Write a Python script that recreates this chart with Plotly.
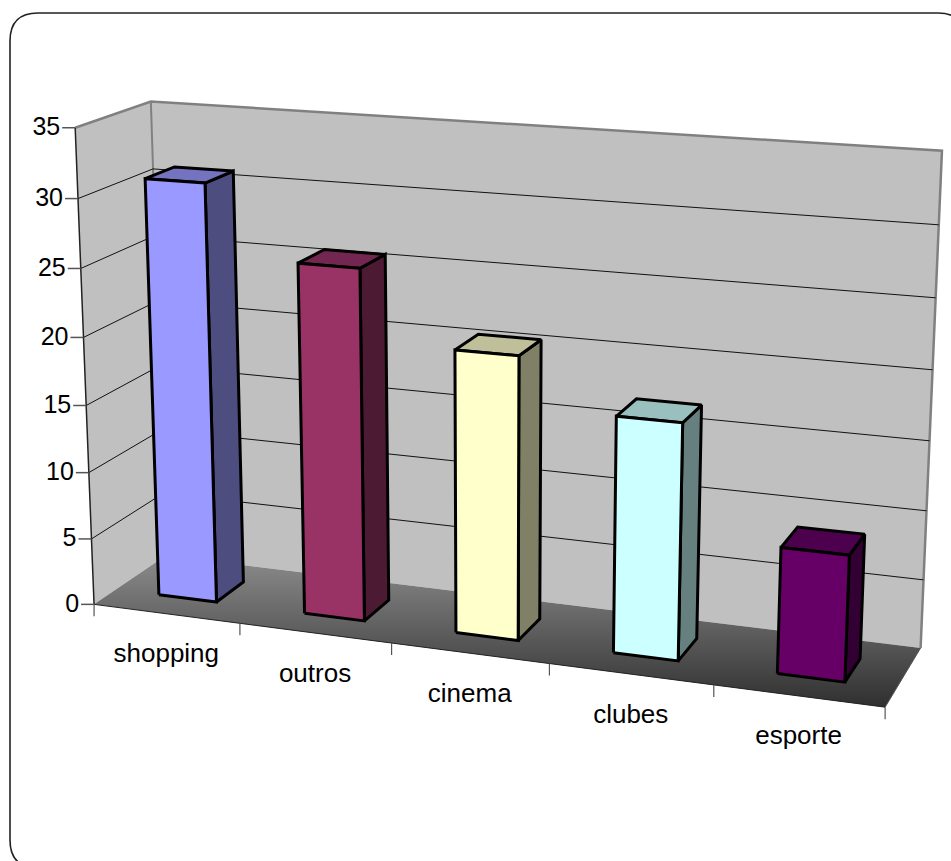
import numpy as np
import plotly.graph_objects as go

# Chart data
categories = ["shopping", "outros", "cinema", "clubes", "esporte"]
values = [31, 25.8, 20.6, 17, 9]
value_ticks = [0, 5, 10, 15, 20, 25, 30, 35]

# Bar face colours: front, side, top
front_colors = ["#9999FF", "#993366", "#FFFFCC", "#CCFFFF", "#660066"]
side_colors = ["#4D4D80", "#4D1A33", "#808066", "#668080", "#330033"]
top_colors = ["#7373BF", "#732650", "#BFBF99", "#99BFBF", "#4D004D"]

FONT = "Liberation Sans, Arial, sans-serif"
WIDTH, HEIGHT = 951, 861
VMAX = value_ticks[-1]
NCAT = len(categories)

# Calibration of the oblique view: (category position, value, depth) -> screen position
frame_world = [
    (0, 0, 0), (0, 35, 0), (0, 35, 1), (0, 0, 1),
    (5, 0, 1), (5, 35, 1), (5, 0, 0),
    (1, 0, 0), (2, 0, 0), (3, 0, 0), (4, 0, 0),
    (0, 30, 0), (0, 5, 0),
]
frame_screen = [
    (95, 604), (75, 127.5), (151, 102), (165, 555),
    (921, 648), (942, 151), (885, 706),
    (240, 624), (391, 644), (549, 664), (714, 685),
    (78, 198), (91.5, 539),
]


def fit_camera(world, screen):
    rows, rhs = [], []
    for (u, v, w), (x, y) in zip(world, screen):
        rows.append([u, v, w, 1, 0, 0, 0, 0, -x * u, -x * v, -x * w])
        rows.append([0, 0, 0, 0, u, v, w, 1, -y * u, -y * v, -y * w])
        rhs += [x, y]
    sol, *_ = np.linalg.lstsq(np.array(rows, float), np.array(rhs, float), rcond=None)
    return np.append(sol, 1.0).reshape(3, 4)


CAMERA = fit_camera(frame_world, frame_screen)


def project(u, v, w):
    px, py, pz = CAMERA @ np.array([u, v, w, 1.0])
    return px / pz, py / pz


fig = go.Figure()


def polygon(corners, fill, line_color=None, line_width=0, **extra):
    pts = [project(*c) for c in corners]
    pts.append(pts[0])
    fig.add_trace(go.Scatter(
        x=[p[0] for p in pts], y=[p[1] for p in pts],
        mode="lines", fill="toself", fillcolor=fill,
        line=dict(color=line_color or fill, width=line_width),
        hoverinfo="skip", **extra,
    ))


def polyline(corners, color, width):
    pts = [project(*c) for c in corners]
    fig.add_trace(go.Scatter(
        x=[p[0] for p in pts], y=[p[1] for p in pts], mode="lines",
        line=dict(color=color, width=width), hoverinfo="skip",
    ))


# Walls
polygon([(0, 0, 0), (0, VMAX, 0), (0, VMAX, 1), (0, 0, 1)], "#C0C0C0")
polygon([(0, 0, 1), (0, VMAX, 1), (NCAT, VMAX, 1), (NCAT, 0, 1)], "#C0C0C0")

# Floor, shaded from back to front
fig.add_trace(go.Scatter(
    x=[project(*c)[0] for c in [(0, 0, 0), (0, 0, 1), (NCAT, 0, 1), (NCAT, 0, 0), (0, 0, 0)]],
    y=[project(*c)[1] for c in [(0, 0, 0), (0, 0, 1), (NCAT, 0, 1), (NCAT, 0, 0), (0, 0, 0)]],
    mode="lines", fill="toself", line=dict(width=0, color="#555555"),
    fillgradient=dict(
        type="vertical", start=555, stop=706,
        colorscale=[[0, "#8C8C8C"], [1, "#303030"]],
    ),
    hoverinfo="skip",
))

# Wall outlines
polyline([(0, VMAX, 0), (0, VMAX, 1), (NCAT, VMAX, 1), (NCAT, 0, 1)], "#808080", 2.5)
polyline([(0, VMAX, 1), (0, 0, 1)], "#808080", 2)

# Gridlines run along the side wall and then the back wall
for tick in value_ticks[1:-1]:
    polyline([(0, tick, 0), (0, tick, 1), (NCAT, tick, 1)], "#111111", 1)

# Axis lines and tick marks
polyline([(0, 0, 0), (0, VMAX, 0)], "#222222", 1.5)
polyline([(0, 0, 0), (NCAT, 0, 0)], "#222222", 1)
polyline([(NCAT, 0, 0), (NCAT, 0, 1)], "#555555", 1)
for tick in value_ticks:
    x, y = project(0, tick, 0)
    fig.add_trace(go.Scatter(x=[x - 13, x], y=[y, y], mode="lines",
                             line=dict(color="#555555", width=1.5), hoverinfo="skip"))
for pos in range(NCAT + 1):
    x, y = project(pos, 0, 0)
    fig.add_trace(go.Scatter(x=[x, x], y=[y, y + 12], mode="lines",
                             line=dict(color="#555555", width=1.2), hoverinfo="skip"))

# Bars: each one fills the middle of its category cell in width and depth
GAP = 0.3
W0, W1 = 0.3, 0.7
for i, val in enumerate(values):
    u0, u1 = i + GAP, i + 1 - GAP
    polygon([(u1, 0, W0), (u1, 0, W1), (u1, val, W1), (u1, val, W0)],
            side_colors[i], "#000000", 3)
    polygon([(u0, val, W0), (u0, val, W1), (u1, val, W1), (u1, val, W0)],
            top_colors[i], "#000000", 3)
    polygon([(u0, 0, W0), (u1, 0, W0), (u1, val, W0), (u0, val, W0)],
            front_colors[i], "#000000", 3)

# Value labels
tick_pts = [project(0, t, 0) for t in value_ticks]
fig.add_trace(go.Scatter(
    x=[p[0] - 15 for p in tick_pts], y=[p[1] + 1 for p in tick_pts],
    mode="text", text=[str(t) for t in value_ticks], textposition="middle left",
    textfont=dict(family=FONT, size=25, color="#000000"), hoverinfo="skip",
))

# Category labels
cat_pts = [project(i + 0.5, 0, 0) for i in range(NCAT)]
fig.add_trace(go.Scatter(
    x=[p[0] for p in cat_pts], y=[p[1] + 42 for p in cat_pts],
    mode="text", text=categories, textposition="middle center",
    textfont=dict(family=FONT, size=26, color="#000000"), hoverinfo="skip",
))

# Rounded frame that runs past the right and bottom edges of the page
L, T, R, B, RAD = 10, 13, 966, 868, 28
frame_path = (
    f"M {L + RAD} {T} L {R - RAD} {T} Q {R} {T} {R} {T + RAD} "
    f"L {R} {B - RAD} Q {R} {B} {R - RAD} {B} L {L + RAD} {B} "
    f"Q {L} {B} {L} {B - RAD} L {L} {T + RAD} Q {L} {T} {L + RAD} {T} Z"
)

fig.update_layout(
    width=WIDTH, height=HEIGHT, autosize=False,
    margin=dict(l=0, r=0, t=0, b=0),
    paper_bgcolor="#FFFFFF", plot_bgcolor="#FFFFFF",
    showlegend=False,
    xaxis=dict(range=[0, WIDTH], visible=False, fixedrange=True),
    yaxis=dict(range=[HEIGHT, 0], visible=False, fixedrange=True),
    shapes=[dict(type="path", path=frame_path, xref="x", yref="y",
                 line=dict(color="#222222", width=1.6), layer="below")],
)

fig.write_html("out.html", config=dict(displayModeBar=False))
